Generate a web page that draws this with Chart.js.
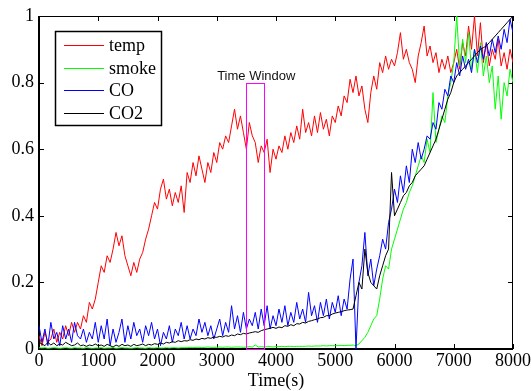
<!DOCTYPE html>
<html>
<head>
<meta charset="utf-8">
<script src="https://cdn.jsdelivr.net/npm/chart.js@4/dist/chart.umd.min.js"></script>
<style>
html,body{margin:0;padding:0;background:#fff;}
#wrap{width:531px;height:391px;}
</style>
</head>
<body>
<div id="wrap"><canvas id="c" width="531" height="391"></canvas></div>
<script>
const time = [
0,50,100,150,200,250,300,350,400,450,
500,550,600,650,700,750,800,850,900,950,
1000,1050,1100,1150,1200,1250,1300,1350,1400,1450,
1500,1550,1600,1650,1700,1750,1800,1850,1900,1950,
2000,2050,2100,2150,2200,2250,2300,2350,2400,2450,
2500,2550,2600,2650,2700,2750,2800,2850,2900,2950,
3000,3050,3100,3150,3200,3250,3300,3350,3400,3450,
3500,3550,3600,3650,3700,3750,3800,3850,3900,3950,
4000,4050,4100,4150,4200,4250,4300,4350,4400,4450,
4500,4550,4600,4650,4700,4750,4800,4850,4900,4950,
5000,5050,5100,5150,5200,5250,5300,5350,5400,5450,
5500,5550,5600,5650,5700,5750,5800,5850,5900,5950,
6000,6050,6100,6150,6200,6250,6300,6350,6400,6450,
6500,6550,6600,6650,6700,6750,6800,6850,6900,6950,
7000,7050,7100,7150,7200,7250,7300,7350,7400,7450,
7500,7550,7600,7650,7700,7750,7800,7850,7900,7950,
8000];

const temp = [
0.04,0.01,0.05,0.02,0.03,0.06,0.02,0.05,0.03,0.07,
0.04,0.08,0.05,0.08,0.06,0.10,0.08,0.14,0.12,0.15,
0.20,0.25,0.23,0.28,0.26,0.30,0.35,0.31,0.34,0.28,
0.25,0.22,0.26,0.23,0.27,0.29,0.33,0.36,0.40,0.44,
0.42,0.48,0.51,0.45,0.48,0.43,0.47,0.44,0.49,0.41,
0.53,0.50,0.56,0.52,0.58,0.54,0.50,0.56,0.53,0.59,
0.56,0.62,0.60,0.64,0.62,0.67,0.72,0.66,0.70,0.65,
0.60,0.68,0.64,0.62,0.56,0.61,0.59,0.63,0.53,0.60,
0.57,0.61,0.59,0.64,0.60,0.65,0.62,0.67,0.63,0.72,
0.65,0.68,0.64,0.70,0.65,0.71,0.66,0.69,0.64,0.70,
0.68,0.73,0.70,0.76,0.74,0.81,0.77,0.82,0.76,0.79,
0.72,0.68,0.77,0.82,0.78,0.86,0.83,0.88,0.84,0.87,
0.85,0.89,0.95,0.87,0.90,0.86,0.84,0.80,0.88,0.92,
0.97,0.88,0.91,0.86,0.89,0.83,0.87,0.84,0.88,0.83,
0.86,0.90,0.84,0.92,0.88,0.97,0.90,1.00,0.88,0.98,
0.86,0.92,0.85,0.90,0.87,0.93,0.85,0.89,0.84,0.90,
0.86];

const smoke = [
0.004,0.003,0.004,0.002,0.003,0.004,0.003,0.002,0.003,0.004,
0.003,0.002,0.004,0.003,0.003,0.002,0.004,0.003,0.002,0.003,
0.003,0.004,0.002,0.003,0.003,0.004,0.002,0.003,0.004,0.003,
0.003,0.002,0.003,0.004,0.003,0.003,0.002,0.004,0.003,0.003,
0.004,0.003,0.003,0.004,0.003,0.004,0.004,0.003,0.004,0.004,
0.004,0.005,0.004,0.005,0.005,0.004,0.005,0.006,0.005,0.005,
0.005,0.006,0.005,0.006,0.006,0.005,0.006,0.006,0.006,0.005,
0.006,0.007,0.006,0.012,0.006,0.007,0.006,0.007,0.007,0.006,
0.007,0.007,0.008,0.007,0.008,0.008,0.007,0.008,0.008,0.008,
0.008,0.009,0.008,0.009,0.009,0.009,0.010,0.009,0.010,0.010,
0.010,0.010,0.011,0.010,0.011,0.011,0.012,0.010,0.015,0.025,
0.035,0.050,0.070,0.090,0.100,0.150,0.210,0.250,0.240,0.300,
0.33,0.36,0.39,0.42,0.44,0.47,0.49,0.52,0.55,0.58,
0.56,0.63,0.59,0.77,0.62,0.66,0.70,0.68,0.76,0.80,
0.86,1.00,0.85,0.93,0.86,0.95,0.84,0.90,0.83,0.92,
0.82,0.88,0.80,0.85,0.72,0.82,0.69,0.80,0.76,0.84,
0.80];

const co = [
0.07,0.02,0.06,0.01,0.08,0.03,0.05,0.01,0.07,0.03,
0.06,0.02,0.08,0.04,0.03,0.06,0.02,0.05,0.03,0.08,
0.02,0.07,0.03,0.09,0.01,0.06,0.02,0.05,0.09,0.02,
0.07,0.03,0.08,0.04,0.06,0.02,0.07,0.04,0.08,0.03,
0.06,0.01,0.05,0.03,0.07,0.02,0.06,0.04,0.08,0.03,
0.07,0.03,0.06,0.04,0.09,0.05,0.08,0.04,0.07,0.03,
0.06,0.09,0.04,0.08,0.05,0.13,0.06,0.10,0.05,0.11,
0.06,0.09,0.07,0.11,0.06,0.12,0.07,0.13,0.06,0.10,
0.07,0.12,0.08,0.13,0.07,0.11,0.08,0.14,0.09,0.12,
0.08,0.17,0.10,0.13,0.08,0.14,0.10,0.15,0.09,0.14,
0.11,0.16,0.10,0.15,0.12,0.21,0.27,0.00,0.20,0.25,
0.35,0.22,0.27,0.19,0.24,0.28,0.33,0.30,0.38,0.42,
0.48,0.44,0.52,0.47,0.55,0.50,0.60,0.56,0.62,0.57,
0.60,0.64,0.63,0.68,0.66,0.74,0.72,0.78,0.76,0.82,
0.80,0.86,0.82,0.88,0.84,0.87,0.83,0.90,0.86,0.91,
0.87,0.92,0.88,0.93,0.89,0.94,0.90,0.96,0.92,0.99,
0.95];

const co2 = [
0.020,0.015,0.010,0.020,0.012,0.018,0.010,0.015,0.012,0.020,
0.015,0.010,0.012,0.018,0.010,0.012,0.008,0.012,0.010,0.015,
0.010,0.012,0.008,0.014,0.010,0.006,0.012,0.008,0.014,0.010,
0.012,0.008,0.014,0.010,0.012,0.015,0.010,0.014,0.012,0.016,
0.014,0.018,0.015,0.020,0.018,0.022,0.020,0.025,0.022,0.025,
0.024,0.028,0.026,0.030,0.028,0.032,0.030,0.034,0.032,0.036,
0.035,0.038,0.036,0.040,0.038,0.042,0.040,0.045,0.043,0.047,
0.045,0.048,0.050,0.052,0.050,0.055,0.058,0.060,0.062,0.065,
0.062,0.066,0.064,0.070,0.068,0.073,0.070,0.076,0.075,0.080,
0.078,0.083,0.085,0.088,0.090,0.094,0.095,0.100,0.100,0.105,
0.108,0.110,0.112,0.115,0.117,0.118,0.120,0.160,0.200,0.180,
0.300,0.230,0.200,0.190,0.180,0.220,0.250,0.280,0.300,0.530,
0.40,0.42,0.44,0.46,0.47,0.49,0.50,0.52,0.53,0.54,
0.55,0.57,0.59,0.61,0.63,0.66,0.69,0.72,0.75,0.77,
0.80,0.82,0.83,0.84,0.85,0.86,0.87,0.88,0.89,0.90,
0.905,0.91,0.92,0.93,0.94,0.95,0.96,0.97,0.98,0.99,
1.00];

const seriesNames = ['temp','smoke','CO','CO2'];
const seriesColors = ['#ff0000','#00ff00','#0000ff','#000000'];
const windowStart = 3500, windowEnd = 3800, windowTop = 0.8;
const windowLabel = 'Time Window';
const xLabel = 'Time(s)';

const serif = '"Liberation Serif", "Times New Roman", serif';
const sans = '"Liberation Sans", Arial, sans-serif';

function pts(arr){ return arr.map((v,i)=>({x: time[i], y: v})); }

const seriesData = [temp, smoke, co, co2];
const datasets = seriesData.map((arr, i) => ({
  label: seriesNames[i],
  data: pts(arr),
  borderColor: seriesColors[i],
  backgroundColor: seriesColors[i],
  borderWidth: 1,
  pointRadius: 0,
  tension: 0,
  fill: false,
  order: 4 - i
}));

const framePlugin = {
  id: 'frame',
  beforeDatasetsDraw(chart) {
    const {ctx, chartArea: a, scales} = chart;
    const xs = scales.x, ys = scales.y;
    ctx.save();
    // axes box
    ctx.strokeStyle = '#000';
    ctx.lineWidth = 1;
    ctx.beginPath();
    ctx.moveTo(a.left, a.top+0.5); ctx.lineTo(a.right, a.top+0.5);
    ctx.moveTo(a.right-0.5, a.top); ctx.lineTo(a.right-0.5, a.bottom);
    ctx.stroke();
    ctx.lineWidth = 2;
    ctx.beginPath();
    ctx.moveTo(a.left, a.bottom); ctx.lineTo(a.right, a.bottom);
    ctx.moveTo(a.left, a.top); ctx.lineTo(a.left, a.bottom+1);
    ctx.stroke();
    // inward ticks
    ctx.lineWidth = 1;
    ctx.beginPath();
    const tl = 5;
    xs.ticks.forEach(t => {
      const px = Math.round(xs.getPixelForValue(t.value)) + 0.5;
      ctx.moveTo(px, a.bottom); ctx.lineTo(px, a.bottom - tl);
      ctx.moveTo(px, a.top); ctx.lineTo(px, a.top + tl);
    });
    ys.ticks.forEach(t => {
      const py = Math.round(ys.getPixelForValue(t.value)) + 0.5;
      ctx.moveTo(a.left, py); ctx.lineTo(a.left + tl, py);
      ctx.moveTo(a.right, py); ctx.lineTo(a.right - tl, py);
    });
    ctx.stroke();
    ctx.restore();
  },
  afterDatasetsDraw(chart) {
    const {ctx, scales} = chart;
    const xs = scales.x, ys = scales.y;
    ctx.save();
    // time window rectangle
    const wx1 = xs.getPixelForValue(windowStart), wx2 = xs.getPixelForValue(windowEnd);
    const wy1 = ys.getPixelForValue(windowTop), wy2 = ys.getPixelForValue(0);
    ctx.strokeStyle = '#ff00ff';
    ctx.lineWidth = 1;
    ctx.strokeRect(Math.round(wx1)+0.5, Math.round(wy1)+0.5, Math.round(wx2-wx1), Math.round(wy2-wy1));
    ctx.fillStyle = '#111';
    ctx.font = '13px ' + sans;
    ctx.textAlign = 'center';
    ctx.textBaseline = 'bottom';
    ctx.fillText(windowLabel, (wx1+wx2)/2 + 1, wy1);

    // legend box
    const lx = 55, ly = 31, lw = 106, lh = 94;
    ctx.fillStyle = '#fff';
    ctx.fillRect(lx, ly, lw, lh);
    ctx.lineWidth = 1.5;
    ctx.strokeStyle = '#000';
    ctx.strokeRect(lx+0.5, ly+0.5, lw, lh);
    const rowY = [45, 68, 90, 113];
    ctx.font = '18px ' + serif;
    ctx.textAlign = 'left';
    ctx.textBaseline = 'middle';
    chart.data.datasets.forEach((ds, i) => {
      ctx.strokeStyle = ds.borderColor;
      ctx.lineWidth = 1;
      ctx.beginPath();
      ctx.moveTo(64, rowY[i] + 0.5); ctx.lineTo(104, rowY[i] + 0.5);
      ctx.stroke();
      ctx.fillStyle = '#000';
      ctx.fillText(ds.label, 109, rowY[i] + 1);
    });
    ctx.restore();
  }
};

new Chart(document.getElementById('c'), {
  type: 'line',
  data: { datasets },
  options: {
    responsive: false,
    animation: false,
    devicePixelRatio: 1,
    layout: { padding: { top: 16, right: 18, left: 0, bottom: 0 } },
    plugins: { legend: { display: false }, tooltip: { enabled: false } },
    scales: {
      x: {
        type: 'linear', min: 0, max: 8000,
        grid: { display: false, drawTicks: false },
        border: { display: false },
        ticks: { stepSize: 1000, padding: 1, color: '#000', maxRotation: 0, autoSkip: false,
                 font: { family: serif, size: 18 }, callback: v => String(v) },
        title: { display: true, text: xLabel, color: '#000', padding: { top: 0, bottom: 0 },
                 font: { family: serif, size: 18, lineHeight: 1.05 } },
        afterFit(s) { s.height = 42; s.paddingLeft = 0; s.paddingRight = 0; }
      },
      y: {
        type: 'linear', min: 0, max: 1,
        grid: { display: false, drawTicks: false },
        border: { display: false },
        ticks: { stepSize: 0.2, padding: 5, color: '#000', font: { family: serif, size: 18 },
                 callback: v => String(Math.round(v * 10) / 10) },
        afterFit(s) { s.width = 39; s.paddingTop = 0; s.paddingBottom = 0; }
      }
    }
  },
  plugins: [framePlugin]
});
</script>
</body>
</html>
